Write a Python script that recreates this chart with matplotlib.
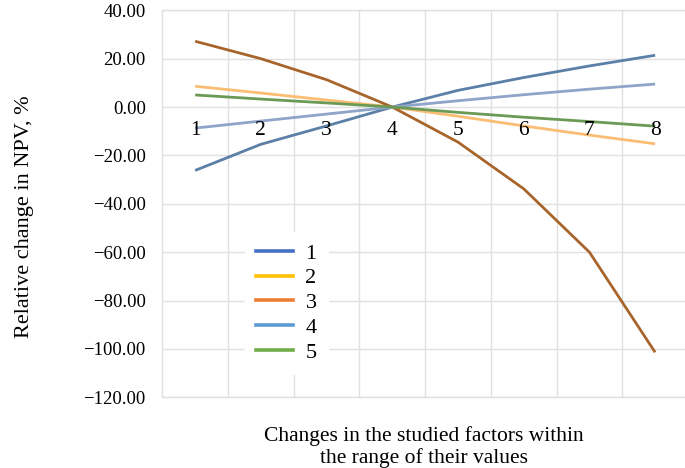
import numpy as np
import matplotlib.pyplot as plt

plt.rcParams['font.family'] = ['Liberation Serif', 'DejaVu Serif']

# Data
steps = [1, 2, 3, 4, 5, 6, 7, 8]
step_labels = ['1', '2', '3', '4', '5', '6', '7', '8']
factor1 = [-26.2, -15.4, -7.8, 0.0, 6.9, 12.2, 17.0, 21.4]
factor2 = [8.6, 5.8, 2.9, 0.0, -3.8, -7.8, -11.6, -15.2]
factor3 = [27.2, 20.0, 11.3, 0.0, -14.5, -33.8, -60.0, -101.4]
factor4 = [-8.7, -5.8, -2.9, 0.0, 2.6, 5.1, 7.4, 9.5]
factor5 = [5.0, 3.3, 1.7, 0.0, -2.2, -4.2, -6.0, -7.9]
series_names = ['1', '2', '3', '4', '5']

line_colors = ['#5b7fa6', '#fbbd74', '#a8652b', '#8fa4c9', '#6b9a56']
legend_colors = ['#4472c4', '#ffc000', '#ed7d31', '#5b9bd5', '#70ad47']

fig = plt.figure(figsize=(6.85, 4.68), dpi=100)
ax = fig.add_axes([162.3 / 685, 1 - 397.3 / 468, (688 - 162.3) / 685, (397.3 - 10.3) / 468])

all_series = [factor1, factor2, factor3, factor4, factor5]
for vals, col in zip(all_series, line_colors):
    ax.plot(steps, vals, color=col, linewidth=2.0, solid_capstyle='butt', zorder=3)

ax.set_xlim(0.5, 8.5)
ax.set_ylim(-120, 40)
yt = np.arange(-120, 41, 20)
ax.set_yticks(yt)
ax.set_yticklabels([f'{v:.2f}'.replace('-', '\u2212') for v in yt])
ax.set_xticks(np.arange(1.5, 8.5, 1))
ax.set_xticklabels([])
ax.tick_params(axis='both', length=0, labelsize=13.5, colors='black')
ax.tick_params(axis='y', pad=12)
ax.grid(True, color='#e0e0e0', linewidth=1.0, zorder=0)
for s in ax.spines.values():
    s.set_color('#e0e0e0')
    s.set_linewidth(1.0)

# category labels sit along the zero line
for x, lab in zip(steps, step_labels):
    ax.annotate(lab, (x, 0), xytext=(0, -10), textcoords='offset points',
                ha='center', va='top', fontsize=15.5, zorder=4)

handles = [plt.Line2D([], [], color=c, linewidth=2.6) for c in legend_colors]
leg = ax.legend(handles, series_names, loc='upper left',
                bbox_to_anchor=(245 / 685, 1 - 232 / 468), bbox_transform=fig.transFigure,
                fontsize=16, frameon=True, facecolor='white', edgecolor='white',
                framealpha=1, fancybox=False, handlelength=1.67, handletextpad=0.55,
                labelspacing=0.19, borderpad=0.5, borderaxespad=0)
leg.set_zorder(5)

fig.text(25 / 685, 1 - 217 / 468, 'Relative change in NPV, %', rotation=90,
         ha='center', va='center', fontsize=16)
fig.text(424 / 685, 1 - 447 / 468, 'Changes in the studied factors within\nthe range of their values',
         ha='center', va='center', fontsize=15.5, linespacing=1.1)

fig.savefig('out.png', dpi=100)
